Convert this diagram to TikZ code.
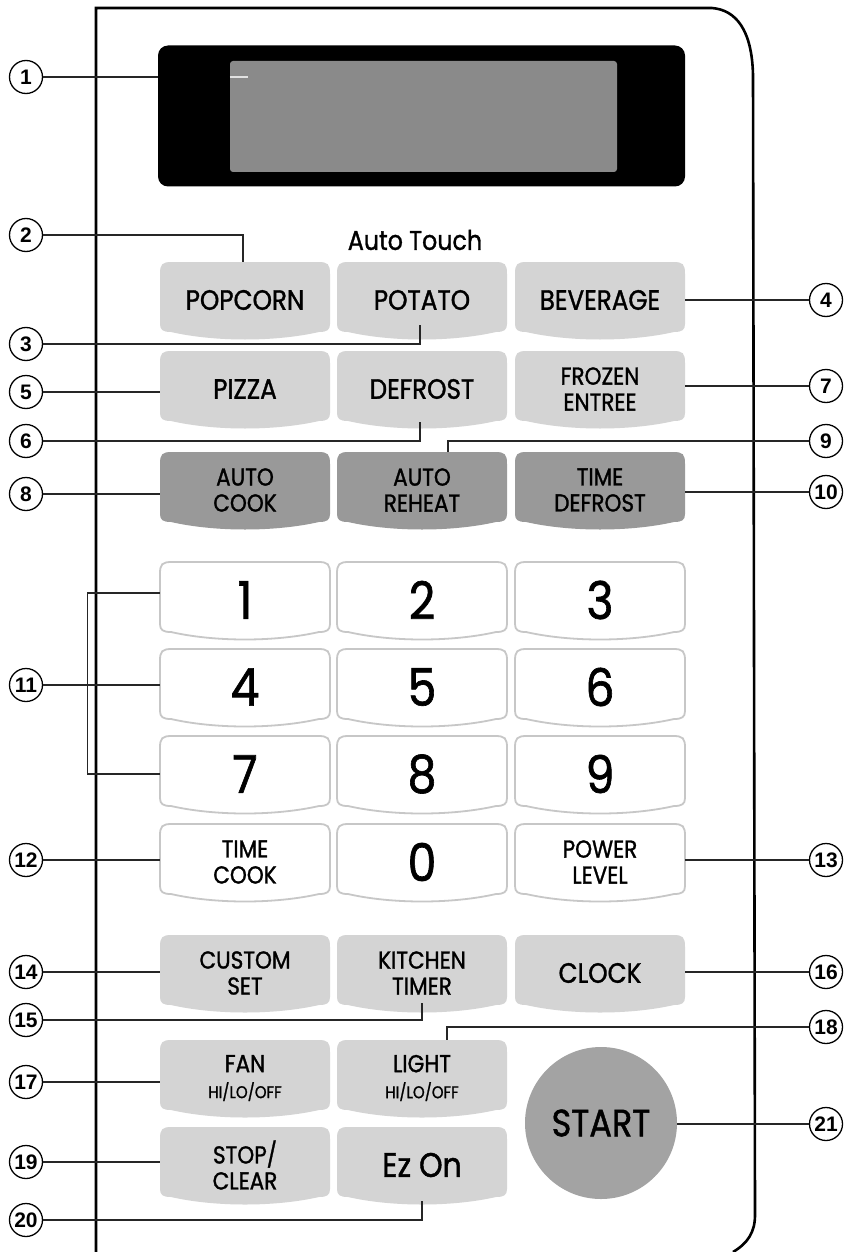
\documentclass[tikz,border=0pt]{standalone}
\usepackage{fontspec}
\setmainfont{Poppins}[FakeStretch=0.88,FakeBold=1.2]
\setsansfont{Liberation Sans}
\usetikzlibrary{calc}
\definecolor{keylight}{gray}{0.83}
\definecolor{keydark}{gray}{0.6}
\definecolor{keyedge}{gray}{0.78}
\definecolor{startgray}{gray}{0.64}
\definecolor{lcd}{gray}{0.54}
\newcommand\kbtn[5]{%
  \path[#4] ({#2-85},{#3-26}) .. controls ({#2-85},{#3-36}) and ({#2-83},{#3-38}) .. ({#2-73},{#3-38})
    -- ({#2+73},{#3-38}) .. controls ({#2+83},{#3-38}) and ({#2+85},{#3-36}) .. ({#2+85},{#3-26})
    -- ({#2+85},{#3+24}) .. controls ({#2+85},{#3+30}) and ({#2+82},{#3+32}) .. ({#2+74},{#3+32})
    .. controls ({#2+30},{#3+42}) and ({#2-30},{#3+42}) .. ({#2-74},{#3+32})
    .. controls ({#2-82},{#3+32}) and ({#2-85},{#3+30}) .. ({#2-85},{#3+24}) -- cycle;
  \node[klabel] (#1) at (#2,#3) {#5};
}
\tikzset{
  keyA/.style={fill=keylight},
  keyB/.style={fill=keydark},
  keyN/.style={fill=white, draw=keyedge, line width=1.8pt},
  klabel/.style={minimum width=170pt, minimum height=76pt, inner sep=0pt, align=center,
    font=\fontsize{24.5}{26}\selectfont, text=black},
  callnum/.style={circle, draw, line width=1.3pt, minimum size=33pt, inner sep=0pt,
    font=\sffamily\bfseries\fontsize{21}{21}\selectfont},
  callout/.style={line width=1.3pt, draw=black!85},
  panel/.style={line width=2.6pt, draw=black},
}
\newcommand\dg[1]{{\fontsize{52}{52}\selectfont #1}}
\newcommand\one[1]{{\fontsize{28}{28}\selectfont #1}}
\begin{document}
\begin{tikzpicture}[x=1pt,y=-1pt]
\useasboundingbox[fill=white] (0,0) rectangle (848,1252);
% panel outline
\draw[panel] (96,1252) -- (96,8) -- (712,8) .. controls (736,10) and (752,30) .. (753,75)
  -- (755,1215) .. controls (755,1232) and (748,1243) .. (733,1252);
% display
\node[fill=black, rounded corners=10pt, minimum width=527pt, minimum height=141pt, inner sep=0pt] (disp) at (421.5,116) {};
\node[fill=lcd, rounded corners=3pt, minimum width=387pt, minimum height=111pt, inner sep=0pt] (lcdwin) at (423.5,116.5) {};
\node[font=\fontsize{27}{27}\selectfont] (autotouch) at (415,240) {Auto Touch};
% buttons
\kbtn{popcorn}{245}{300}{keyA}{\one{POPCORN}}
\kbtn{potato}{422}{300}{keyA}{\one{POTATO}}
\kbtn{beverage}{600}{300}{keyA}{\one{BEVERAGE}}
\kbtn{pizza}{245}{389}{keyA}{\one{PIZZA}}
\kbtn{defrost}{422}{389}{keyA}{\one{DEFROST}}
\kbtn{frozen}{600}{389}{keyA}{FROZEN\\ENTREE}
\kbtn{autocook}{245}{490}{keyB}{AUTO\\COOK}
\kbtn{autoreheat}{422}{490}{keyB}{AUTO\\REHEAT}
\kbtn{timedefrost}{600}{490}{keyB}{TIME\\DEFROST}
\kbtn{k1}{245}{600}{keyN}{\dg{1}}
\kbtn{k2}{422}{600}{keyN}{\dg{2}}
\kbtn{k3}{600}{600}{keyN}{\dg{3}}
\kbtn{k4}{245}{687}{keyN}{\dg{4}}
\kbtn{k5}{422}{687}{keyN}{\dg{5}}
\kbtn{k6}{600}{687}{keyN}{\dg{6}}
\kbtn{k7}{245}{774}{keyN}{\dg{7}}
\kbtn{k8}{422}{774}{keyN}{\dg{8}}
\kbtn{k9}{600}{774}{keyN}{\dg{9}}
\kbtn{timecook}{245}{862}{keyN}{TIME\\COOK}
\kbtn{k0}{422}{862}{keyN}{\dg{0}}
\kbtn{power}{600}{862}{keyN}{POWER\\LEVEL}
\kbtn{custom}{245}{973}{keyA}{CUSTOM\\SET}
\kbtn{kitchen}{422}{973}{keyA}{KITCHEN\\TIMER}
\kbtn{clock}{600}{973}{keyA}{\one{CLOCK}}
\kbtn{fan}{245}{1078}{keyA}{FAN\\{\fontsize{17}{21}\selectfont HI/LO/OFF}}
\kbtn{light}{422}{1078}{keyA}{LIGHT\\{\fontsize{17}{21}\selectfont HI/LO/OFF}}
\kbtn{stop}{245}{1165}{keyA}{STOP/\\CLEAR}
\kbtn{ezon}{422}{1165}{keyA}{{\fontsize{34}{34}\selectfont Ez On}}
\node[circle, fill=startgray, minimum size=152pt, inner sep=0pt, font=\fontsize{38}{38}\selectfont] (start) at (601,1123) {START};
% callout circles
\node[callnum] (c1) at (26,77) {1};
\node[callnum] (c2) at (26,235) {2};
\node[callnum] (c3) at (26,344) {3};
\node[callnum] (c4) at (826,300) {4};
\node[callnum] (c5) at (26,392) {5};
\node[callnum] (c6) at (26,441) {6};
\node[callnum] (c7) at (826,386) {7};
\node[callnum] (c8) at (26,494) {8};
\node[callnum] (c9) at (826,441) {9};
\node[callnum] (c10) at (826,492) {10};
\node[callnum] (c11) at (26,685) {11};
\node[callnum] (c12) at (26,860) {12};
\node[callnum] (c13) at (826,860) {13};
\node[callnum] (c14) at (26,972) {14};
\node[callnum] (c15) at (26,1020) {15};
\node[callnum] (c16) at (826,972) {16};
\node[callnum] (c17) at (26,1082) {17};
\node[callnum] (c18) at (826,1027) {18};
\node[callnum] (c19) at (26,1162) {19};
\node[callnum] (c20) at (26,1220) {20};
\node[callnum] (c21) at (826,1124) {21};
% callout lines
\coordinate (p1) at (248,77);
\draw[callout] (c1) -- (disp.west |- c1);
\draw[line width=1.3pt, draw=white!75!lcd] (lcdwin.west |- c1) -- (p1);
\draw[callout] (c2) -| ($(popcorn.north)+(-2,0)$);
\draw[callout] (c3) -| ($(potato.south)+(-2,-13)$);
\draw[callout] (c4) -- (beverage.east |- c4);
\draw[callout] (c5) -- (pizza.west |- c5);
\draw[callout] (c6) -| ($(defrost.south)+(-2,-5)$);
\draw[callout] (c7) -- (frozen.east |- c7);
\draw[callout] (c8) -- (autocook.west |- c8);
\draw[callout] (c9) -| ($(autoreheat.north)+(26,0)$);
\draw[callout] (c10) -- (timedefrost.east |- c10);
\draw[callout] (c11) -- (k4.west |- c11);
\draw[callout] ($(k1.west)+(0,-7)$) -- ++(-72,0) |- (k7.west);
\draw[callout] (c12) -- (timecook.west |- c12);
\draw[callout] (c13) -- (power.east |- c13);
\draw[callout] (c14) -- (custom.west |- c14);
\draw[callout] (c15) -| ($(kitchen.south)+(0,-8)$);
\draw[callout] (c16) -- (clock.east |- c16);
\draw[callout] (c17) -- (fan.west |- c17);
\draw[callout] (c18) -| ($(light.north)+(25,0)$);
\draw[callout] (c19) -- (stop.west |- c19);
\draw[callout] (c20) -| ($(ezon.south)+(0,-2)$);
\draw[callout] (c21) -- (start.east |- c21);
\end{tikzpicture}
\end{document}
